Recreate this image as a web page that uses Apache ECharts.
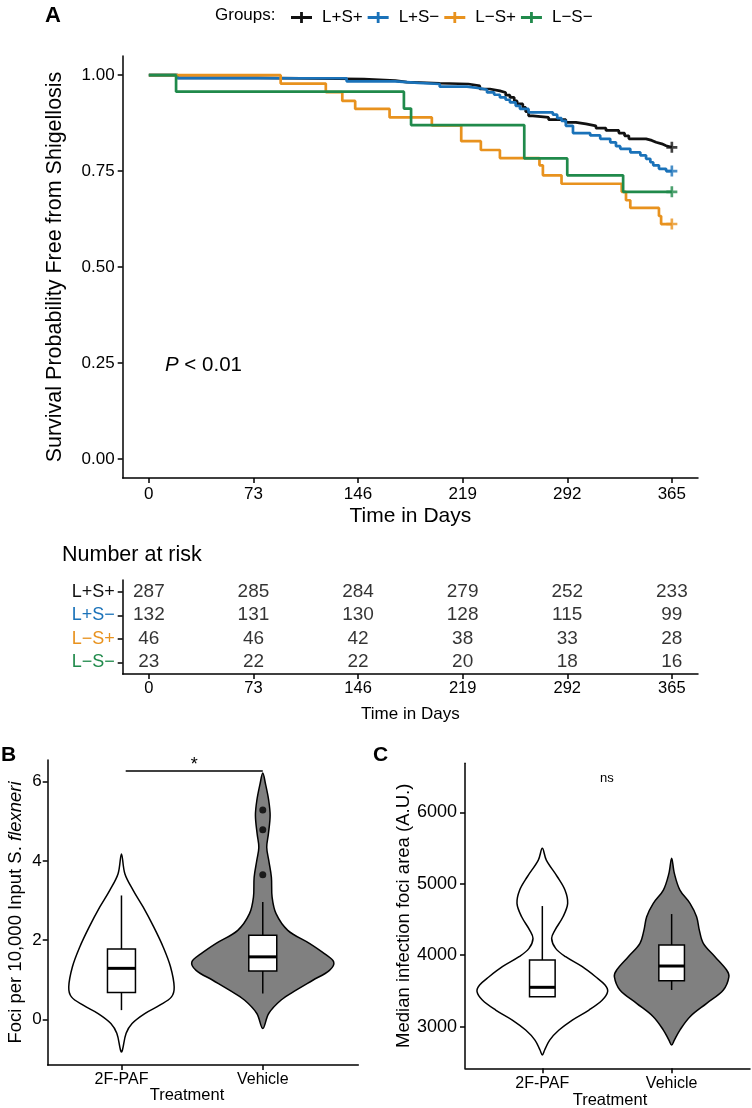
<!DOCTYPE html>
<html><head><meta charset="utf-8">
<script src="https://cdn.jsdelivr.net/npm/echarts@6/dist/echarts.min.js"></script>
<style>html,body{margin:0;padding:0;background:#fff}#c{width:752px;height:1108px}</style>
</head><body><div id="c"></div>
<script>
// ---------------- DATA ----------------
const groups = ['L+S+', 'L+S\u2212', 'L\u2212S+', 'L\u2212S\u2212'];
const groupColors = ['#111111', '#1a72b9', '#e8921e', '#208a4b'];
const dayTicks = [0, 73, 146, 219, 292, 365];
const survTicks = [0, 0.25, 0.5, 0.75, 1];

const kmLpSp = [[0,1],[20,0.993],[76,0.990],[150,0.986],[172,0.982],[180,0.979],[203,0.977],[223,0.972],[231,0.964],[238,0.959],[245,0.955],[249,0.948],[252,0.942],[255,0.933],[257,0.925],[261,0.916],[263,0.905],[265,0.894],[268,0.890],[279,0.884],[291,0.877],[298,0.873],[305,0.868],[312,0.862],[319,0.856],[328,0.849],[332,0.842],[335,0.834],[347,0.830],[351,0.825],[354,0.821],[358,0.816],[361,0.812],[365,0.812]];
const kmLpSm = [[0,1],[20,0.992],[138,0.984],[172,0.980],[188,0.977],[203,0.970],[222,0.966],[231,0.962],[236,0.955],[241,0.949],[245,0.942],[249,0.936],[252,0.929],[256,0.920],[259,0.912],[265,0.903],[282,0.897],[285,0.888],[288,0.881],[291,0.868],[296,0.849],[308,0.843],[315,0.834],[322,0.825],[326,0.815],[329,0.808],[336,0.799],[343,0.791],[347,0.782],[350,0.773],[352,0.765],[356,0.756],[361,0.750],[365,0.750]];
const kmLmSp = [[0,1],[92,0.978],[123.5,0.956],[135,0.933],[144,0.912],[168,0.890],[197.5,0.869],[218,0.828],[231.7,0.805],[245,0.784],[272.6,0.765],[275,0.739],[288,0.717],[330,0.696],[333,0.674],[336,0.654],[356,0.633],[357.5,0.612],[365,0.612]];
const kmLmSm = [[0,1],[19,0.957],[178,0.913],[183,0.870],[262,0.783],[292,0.739],[331,0.696],[365,0.696]];
const kmAll = [kmLpSp, kmLpSm, kmLmSp, kmLmSm];

const riskTimes = [0, 73, 146, 219, 292, 365];
const riskLpSp = [287, 285, 284, 279, 252, 233];
const riskLpSm = [132, 131, 130, 128, 115, 99];
const riskLmSp = [46, 46, 42, 38, 33, 28];
const riskLmSm = [23, 22, 22, 20, 18, 16];
const riskAll = [riskLpSp, riskLpSm, riskLmSp, riskLmSm];

const treatments = ['2F-PAF', 'Vehicle'];
const fociTicks = [0, 2, 4, 6];
const areaTicks = [3000, 4000, 5000, 6000];
// violin outlines: [value, half-width in category units]
const violinB_2F = [[4.18,0],[3.68,0.024],[3.26,0.083],[2.84,0.153],[2.33,0.229],[1.83,0.295],[1.33,0.347],[0.82,0.373],[0.57,0.354],[0.36,0.271],[0.15,0.165],[-0.10,0.075],[-0.35,0.033],[-0.77,0.007],[-0.82,0]];
const violinB_Veh = [[6.22,0],[5.95,0.019],[5.53,0.042],[5.15,0.052],[4.69,0.040],[4.35,0.028],[4.02,0.042],[3.59,0.061],[3.09,0.066],[2.67,0.094],[2.25,0.177],[1.92,0.330],[1.66,0.436],[1.45,0.502],[1.24,0.472],[0.99,0.354],[0.74,0.236],[0.49,0.130],[0.15,0.042],[-0.23,0]];
const violinC_2F = [[5495,0],[5331,0.031],[5098,0.116],[4912,0.175],[4726,0.196],[4538,0.160],[4352,0.098],[4236,0.072],[4096,0.103],[3979,0.180],[3839,0.309],[3699,0.412],[3583,0.485],[3490,0.505],[3373,0.464],[3233,0.361],[3093,0.232],[2953,0.129],[2813,0.057],[2674,0.018],[2604,0]];
const violinC_Veh = [[5355,0],[5145,0.021],[4912,0.064],[4726,0.142],[4538,0.193],[4352,0.214],[4166,0.245],[3979,0.335],[3793,0.425],[3699,0.443],[3513,0.400],[3327,0.271],[3140,0.142],[2953,0.064],[2813,0.021],[2744,0]];
// box: [lower whisker, Q1, median, Q3, upper whisker]
const boxB = [[0.235, 0.68, 1.29, 1.78, 3.13], [0.655, 1.225, 1.58, 2.125, 2.965]];
const boxC = [[3420, 3420, 3551, 3933, 4688], [3513, 3643, 3849, 4143, 4576]];
const outliersB = [[2, 5.29], [2, 4.79], [2, 3.65]];
const sigB = [[1.03, 2.0, 6.27, '*']];
const sigC = [[1.5, 6474, 'ns']];
const violinFills = ['#ffffff', '#808080'];

// ---------------- CHART ----------------
const FONT = '"Liberation Sans", Arial, Helvetica, sans-serif';
const chart = echarts.init(document.getElementById('c'));
const AX = {color: '#000', width: 1.5};
const plusPath = 'path://M0,3.8H3.8V0H6.2V3.8H10V6.2H6.2V10H3.8V6.2H0Z';
const legendPath = 'path://M0,4.1H9.1V0H11.9V4.1H21V6.9H11.9V11H9.1V6.9H0Z';

function valAxis(o) {
  return Object.assign({
    type: 'value', splitLine: {show: false},
    axisLine: {show: true, onZero: false, lineStyle: AX},
    axisTick: {show: true, length: 5, lineStyle: AX},
    axisLabel: {color: '#000', fontFamily: FONT}
  }, o);
}

function violinRender(profiles) {
  return function (params, api) {
    const i = params.dataIndex;
    const x = api.value(0);
    const prof = profiles[i];
    const pts = [];
    prof.forEach(p => pts.push(api.coord([x - p[1], p[0]])));
    for (let k = prof.length - 1; k >= 0; k--) {
      if (prof[k][1] > 0) pts.push(api.coord([x + prof[k][1], prof[k][0]]));
    }
    return {type: 'polygon', shape: {points: pts, smooth: 0.35},
      style: {fill: violinFills[i], stroke: '#000', lineWidth: 1.5}};
  };
}
function boxRender(boxes, hw) {
  return function (params, api) {
    const b = boxes[params.dataIndex];
    const x = api.value(0);
    const c = v => api.coord([x, v]);
    const l = api.coord([x - hw, b[3]]);
    const r = api.coord([x + hw, b[1]]);
    const ml = api.coord([x - hw, b[2]]), mr = api.coord([x + hw, b[2]]);
    const st = {stroke: '#000', lineWidth: 1.5};
    return {type: 'group', children: [
      {type: 'line', shape: {x1: c(b[0])[0], y1: c(b[0])[1], x2: c(b[1])[0], y2: c(b[1])[1]}, style: st},
      {type: 'line', shape: {x1: c(b[3])[0], y1: c(b[3])[1], x2: c(b[4])[0], y2: c(b[4])[1]}, style: st},
      {type: 'rect', shape: {x: l[0], y: l[1], width: r[0] - l[0], height: r[1] - l[1]}, style: {fill: '#fff', stroke: '#000', lineWidth: 1.5}},
      {type: 'line', shape: {x1: ml[0], y1: ml[1], x2: mr[0], y2: mr[1]}, style: {stroke: '#000', lineWidth: 3}}
    ]};
  };
}

const series = [];
kmAll.forEach((d, i) => {
  series.push({name: groups[i], type: 'line', step: 'end', data: d, xAxisIndex: 0, yAxisIndex: 0,
    showSymbol: false, symbol: 'none', lineStyle: {width: 2.7, color: groupColors[i]},
    itemStyle: {color: groupColors[i]}, animation: false, z: 2 + i});
});
series.push({name: 'censor', type: 'scatter', xAxisIndex: 0, yAxisIndex: 0, symbol: plusPath, symbolSize: 11,
  data: kmAll.map((d, i) => ({value: d[d.length - 1], itemStyle: {color: groupColors[i]}})), z: 10, animation: false});
// risk table
const riskData = [];
riskAll.forEach((arr, g) => arr.forEach((n, k) => riskData.push([riskTimes[k], groups[g], n])));
series.push({type: 'scatter', xAxisIndex: 1, yAxisIndex: 1, symbolSize: 0, data: riskData, animation: false,
  label: {show: true, position: 'inside', formatter: p => p.value[2], color: '#000', fontSize: 19, fontFamily: FONT}});
// panel B
series.push({type: 'custom', xAxisIndex: 2, yAxisIndex: 2, renderItem: violinRender([violinB_2F, violinB_Veh]),
  data: boxB.map((b, i) => [i + 1, b[2]]), clip: false, animation: false, z: 1});
series.push({type: 'custom', xAxisIndex: 2, yAxisIndex: 2, renderItem: boxRender(boxB, 0.099),
  data: boxB.map((b, i) => [i + 1, b[2]]), clip: false, animation: false, z: 2});
series.push({type: 'scatter', xAxisIndex: 2, yAxisIndex: 2, data: outliersB, symbolSize: 7,
  itemStyle: {color: '#000'}, animation: false, z: 3});
series.push({type: 'custom', xAxisIndex: 2, yAxisIndex: 2, clip: false, animation: false, data: sigB,
  renderItem: (params, api) => {
    const s = sigB[params.dataIndex];
    const a = api.coord([s[0], s[2]]), b = api.coord([s[1], s[2]]);
    return {type: 'group', children: [
      {type: 'line', shape: {x1: a[0], y1: a[1], x2: b[0], y2: b[1]}, style: {stroke: '#000', lineWidth: 1.5}},
      {type: 'text', x: (a[0] + b[0]) / 2, y: a[1] + 3, style: {text: s[3], fontSize: 18, fontFamily: FONT, fill: '#000', align: 'center', verticalAlign: 'bottom'}}
    ]};
  }});
// panel C
series.push({type: 'custom', xAxisIndex: 3, yAxisIndex: 3, renderItem: violinRender([violinC_2F, violinC_Veh]),
  data: boxC.map((b, i) => [i + 1, b[2]]), clip: false, animation: false, z: 1});
series.push({type: 'custom', xAxisIndex: 3, yAxisIndex: 3, renderItem: boxRender(boxC, 0.099),
  data: boxC.map((b, i) => [i + 1, b[2]]), clip: false, animation: false, z: 2});
series.push({type: 'custom', xAxisIndex: 3, yAxisIndex: 3, clip: false, animation: false, data: sigC,
  renderItem: (params, api) => {
    const s = sigC[params.dataIndex];
    const a = api.coord([s[0], s[1]]);
    return {type: 'text', x: a[0], y: a[1], style: {text: s[2], fontSize: 13, fontFamily: FONT, fill: '#000', align: 'center', verticalAlign: 'middle'}};
  }});

const catFmt = v => treatments[Math.round(v) - 1] || '';

const option = {
  backgroundColor: '#fff',
  animation: false,
  textStyle: {fontFamily: FONT},
  legend: {
    data: groups, left: 286, top: 4, itemWidth: 21, itemHeight: 11, itemGap: 5, icon: legendPath,
    textStyle: {fontSize: 17, color: '#000', fontFamily: FONT, padding: [0, 0, 0, 5]}
  },
  grid: [
    {left: 122.7, top: 56, width: 575.3, height: 422},
    {left: 122.7, top: 580, width: 575.3, height: 94},
    {left: 47.7, top: 760, width: 310.6, height: 305},
    {left: 465, top: 763.3, width: 285, height: 305}
  ],
  xAxis: [
    valAxis({gridIndex: 0, min: -18.25, max: 383.25,
      axisTick: {show: true, length: 5, lineStyle: AX, customValues: dayTicks},
      axisLabel: {color: '#000', fontSize: 17, margin: 8, customValues: dayTicks, fontFamily: FONT},
      name: 'Time in Days', nameLocation: 'middle', nameGap: 28, nameTextStyle: {fontSize: 21, color: '#000', fontFamily: FONT}}),
    valAxis({gridIndex: 1, min: -18.25, max: 383.25,
      axisTick: {show: true, length: 5, lineStyle: AX, customValues: riskTimes},
      axisLabel: {color: '#000', fontSize: 16.5, margin: 6, customValues: riskTimes, fontFamily: FONT},
      name: 'Time in Days', nameLocation: 'middle', nameGap: 32, nameTextStyle: {fontSize: 17, color: '#000', fontFamily: FONT}}),
    valAxis({gridIndex: 2, min: 0.478, max: 2.676,
      axisTick: {show: true, length: 5, lineStyle: AX, customValues: [1, 2]},
      axisLabel: {color: '#000', fontSize: 16, margin: 7, customValues: [1, 2], formatter: catFmt, fontFamily: FONT}}),
    valAxis({gridIndex: 3, min: 0.402, max: 2.606,
      axisTick: {show: true, length: 5, lineStyle: AX, customValues: [1, 2]},
      axisLabel: {color: '#000', fontSize: 16, margin: 7, customValues: [1, 2], formatter: catFmt, fontFamily: FONT}})
  ],
  yAxis: [
    valAxis({gridIndex: 0, min: -0.05, max: 1.05,
      axisTick: {show: true, length: 5, lineStyle: AX, customValues: survTicks},
      axisLabel: {color: '#000', fontSize: 17, margin: 8, customValues: survTicks, formatter: v => v.toFixed(2), fontFamily: FONT},
      name: 'Survival Probability Free from Shigellosis', nameLocation: 'middle', nameGap: 57,
      nameTextStyle: {fontSize: 21.5, color: '#000', fontFamily: FONT}}),
    {type: 'category', gridIndex: 1, data: groups, inverse: true,
      axisLine: {show: true, onZero: false, lineStyle: AX}, axisTick: {show: true, length: 5, alignWithLabel: true, lineStyle: AX},
      axisLabel: {fontSize: 18, margin: 8, fontFamily: FONT, color: (v, i) => groupColors[groups.indexOf(v)]},
      splitLine: {show: false}},
    valAxis({gridIndex: 2, min: -1.15, max: 6.55,
      axisTick: {show: true, length: 5, lineStyle: AX, customValues: fociTicks},
      axisLabel: {color: '#000', fontSize: 17, margin: 6, customValues: fociTicks, formatter: v => String(v), fontFamily: FONT},
      name: 'Foci per 10,000 Input S. {i|flexneri}', nameLocation: 'middle', nameGap: 22,
      nameTextStyle: {fontSize: 18.5, color: '#000', fontFamily: FONT, rich: {i: {fontStyle: 'italic', fontSize: 18.5, fontFamily: FONT, color: '#000'}}}}),
    valAxis({gridIndex: 3, min: 2418, max: 6685,
      axisTick: {show: true, length: 5, lineStyle: AX, customValues: areaTicks},
      axisLabel: {color: '#000', fontSize: 18, margin: 8, customValues: areaTicks, formatter: v => String(v), fontFamily: FONT},
      name: 'Median infection foci area (A.U.)', nameLocation: 'middle', nameGap: 52,
      nameTextStyle: {fontSize: 18.5, color: '#000', fontFamily: FONT}})
  ],
  graphic: [
    {type: 'text', left: 45, top: 5, style: {text: 'A', fontSize: 22, fontWeight: 'bold', fontFamily: FONT, fill: '#000'}},
    {type: 'text', left: 1, top: 745, style: {text: 'B', fontSize: 21, fontWeight: 'bold', fontFamily: FONT, fill: '#000'}},
    {type: 'text', left: 373, top: 745, style: {text: 'C', fontSize: 21, fontWeight: 'bold', fontFamily: FONT, fill: '#000'}},
    {type: 'text', x: 215, y: 15, style: {text: 'Groups:', fontSize: 17, fontFamily: FONT, fill: '#000', verticalAlign: 'middle'}},
    {type: 'text', x: 165, y: 365, style: {text: '{i|P} < 0.01', fontSize: 20.5, fontFamily: FONT, fill: '#000', verticalAlign: 'middle',
      rich: {i: {fontStyle: 'italic', fontSize: 20.5, fontFamily: FONT, fill: '#000'}}}},
    {type: 'text', x: 62, y: 555, style: {text: 'Number at risk', fontSize: 21.5, fontFamily: FONT, fill: '#000', verticalAlign: 'middle'}},
    {type: 'text', x: 187, y: 1095, style: {text: 'Treatment', fontSize: 16.5, fontFamily: FONT, fill: '#000', align: 'center', verticalAlign: 'middle'}},
    {type: 'text', x: 610, y: 1100, style: {text: 'Treatment', fontSize: 16.5, fontFamily: FONT, fill: '#000', align: 'center', verticalAlign: 'middle'}}
  ],
  series: series
};
chart.setOption(option);
</script>
</body></html>
